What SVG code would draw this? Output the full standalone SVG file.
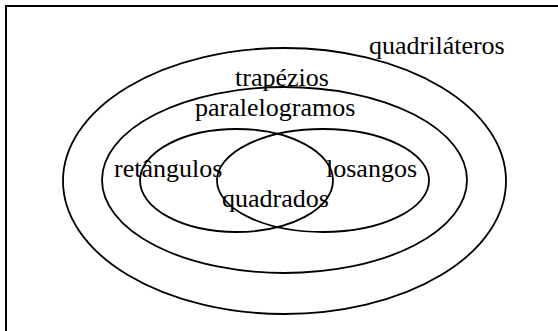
<svg xmlns="http://www.w3.org/2000/svg" width="558" height="331" viewBox="0 0 558 331">
<style>
.e{fill:none;stroke:#000;stroke-width:1.8}
.t{font-family:"Liberation Serif","Times New Roman",serif;font-size:26px;fill:#000}
</style>
<rect width="558" height="331" fill="#fff"/>
<g id="frame"><rect x="6" y="6" width="700" height="500" fill="none" stroke="#000" stroke-width="2"/></g>
<g id="quadrilateros"><ellipse class="e" cx="284.5" cy="181" rx="221.5" ry="133"/><text class="t" x="369" y="54">quadriláteros</text></g>
<g id="trapezios"><ellipse class="e" cx="284.5" cy="180" rx="182.5" ry="93"/><text class="t" x="235" y="86">trapézios</text></g>
<g id="paralelogramos"><text class="t" x="195" y="116">paralelogramos</text></g>
<g id="retangulos"><ellipse class="e" cx="236.5" cy="180.5" rx="96.5" ry="51.5"/><text class="t" x="114" y="177">retângulos</text></g>
<g id="losangos"><ellipse class="e" cx="323" cy="180.5" rx="106" ry="51.5"/><text class="t" x="326" y="177">losangos</text></g>
<g id="quadrados"><text class="t" x="222" y="207">quadrados</text></g>
<g id="connectors"></g>
</svg>
